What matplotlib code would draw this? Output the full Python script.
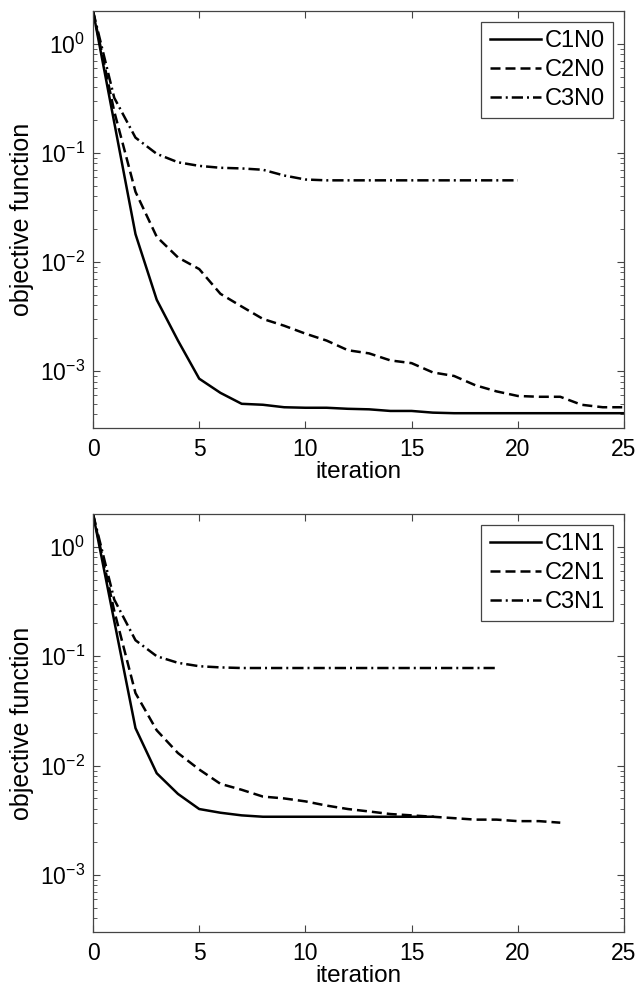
import numpy as np
import matplotlib
matplotlib.use('Agg')
import matplotlib.pyplot as plt
from matplotlib.ticker import LogLocator, NullFormatter

plt.rcParams['font.family'] = ['Liberation Sans', 'DejaVu Sans']
plt.rcParams['mathtext.fontset'] = 'custom'
plt.rcParams['mathtext.rm'] = 'Liberation Sans'
plt.rcParams['mathtext.it'] = 'Liberation Sans'
plt.rcParams['mathtext.bf'] = 'Liberation Sans'

# top panel (N0)
c1n0 = [2.0, 0.19, 0.018, 0.0045, 0.0019, 8.5e-4, 6.3e-4, 5.0e-4, 4.9e-4, 4.65e-4,
        4.6e-4, 4.6e-4, 4.5e-4, 4.45e-4, 4.3e-4, 4.3e-4, 4.15e-4, 4.1e-4, 4.1e-4,
        4.1e-4, 4.1e-4, 4.1e-4, 4.1e-4, 4.1e-4, 4.1e-4, 4.1e-4]
c2n0 = [2.0, 0.24, 0.044, 0.017, 0.011, 0.0086, 0.0051, 0.0039, 0.0030, 0.0026,
        0.0022, 0.0019, 0.00155, 0.00145, 0.00125, 0.00118, 9.7e-4, 9.0e-4, 7.4e-4,
        6.5e-4, 5.9e-4, 5.8e-4, 5.8e-4, 4.9e-4, 4.65e-4, 4.65e-4]
c3n0 = [2.0, 0.32, 0.138, 0.098, 0.082, 0.076, 0.073, 0.072, 0.070, 0.062,
        0.057, 0.056, 0.056, 0.056, 0.056, 0.056, 0.056, 0.056, 0.056, 0.056, 0.056]

# bottom panel (N1)
c1n1 = [2.0, 0.21, 0.022, 0.0085, 0.0055, 0.0040, 0.0037, 0.0035, 0.0034, 0.0034,
        0.0034, 0.0034, 0.0034, 0.0034, 0.0034, 0.0034, 0.0034]
c2n1 = [2.0, 0.26, 0.046, 0.021, 0.013, 0.0092, 0.0068, 0.0060, 0.0052, 0.0050,
        0.0047, 0.0043, 0.0040, 0.0038, 0.0036, 0.0035, 0.0034, 0.0033, 0.0032,
        0.0032, 0.0031, 0.0031, 0.0030]
c3n1 = [2.0, 0.33, 0.14, 0.10, 0.087, 0.081, 0.079, 0.078, 0.078, 0.078,
        0.078, 0.078, 0.078, 0.078, 0.078, 0.078, 0.078, 0.078, 0.078, 0.078]

panels = [
    ([c1n0, c2n0, c3n0], ['C1N0', 'C2N0', 'C3N0']),
    ([c1n1, c2n1, c3n1], ['C1N1', 'C2N1', 'C3N1']),
]
styles = ['-', (0, (4, 2)), (0, (4.5, 1.6, 0.8, 1.6))]

fig = plt.figure(figsize=(6.38, 9.89), dpi=100)
rects = [[93/638, 1-428/989, 531/638, 417/989],
         [93/638, 1-932/989, 531/638, 418/989]]

for rect, (series, labels) in zip(rects, panels):
    ax = fig.add_axes(rect)
    for ys, lab, ls in zip(series, labels, styles):
        ax.plot(np.arange(len(ys)), ys, color='black', lw=1.8, ls=ls, label=lab)
    ax.set_yscale('log')
    ax.set_xlim(0, 25)
    ax.set_ylim(3e-4, 2)
    ax.set_xticks([0, 5, 10, 15, 20, 25])
    ax.yaxis.set_major_locator(LogLocator(base=10, numticks=10))
    ax.yaxis.set_minor_locator(LogLocator(base=10, subs=np.arange(2, 10), numticks=10))
    ax.yaxis.set_minor_formatter(NullFormatter())
    ax.tick_params(which='both', direction='in', top=True, right=True,
                   color='#444444', labelsize=16.5)
    ax.tick_params(axis='x', pad=7)
    ax.tick_params(axis='y', pad=6)
    ax.tick_params(which='major', length=5, width=0.8)
    ax.tick_params(which='minor', length=3, width=0.6)
    for s in ax.spines.values():
        s.set_color('#444444')
        s.set_linewidth(0.9)
    ax.set_xlabel('iteration', fontsize=17.5, labelpad=0)
    ax.set_ylabel('objective function', fontsize=18, labelpad=4)
    leg = ax.legend(loc='upper right', fontsize=17, handlelength=2.2,
                    handletextpad=0.15, labelspacing=0.3, borderpad=0.35,
                    borderaxespad=0.45, fancybox=False, framealpha=1)
    leg.get_frame().set_edgecolor('#444444')
    leg.get_frame().set_linewidth(0.9)

fig.savefig('out.png', dpi=100)
